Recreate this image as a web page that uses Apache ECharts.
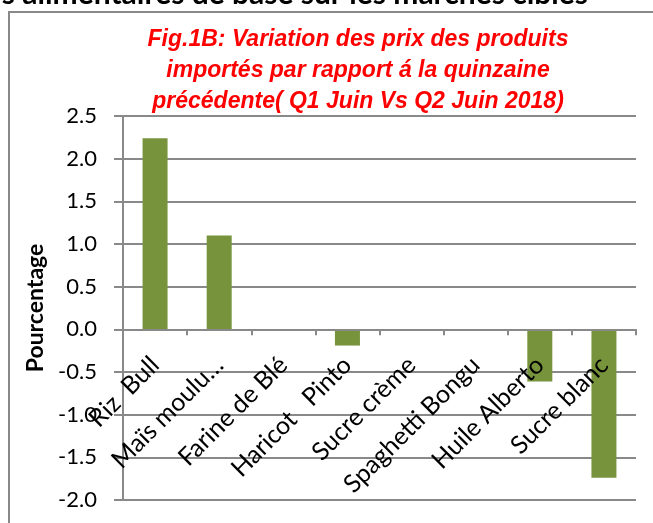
<!DOCTYPE html>
<html>
<head>
<meta charset="utf-8">
<script src="https://cdn.jsdelivr.net/npm/echarts@6/dist/echarts.min.js"></script>
<style>
  html, body { margin: 0; padding: 0; background: #fff; }
  #chart { width: 653px; height: 523px; }
</style>
</head>
<body>
<div id="chart"></div>
<script>
// produits importés (libellés tels que dans la figure)
const produits = ['Riz  Bull', 'Maïs moulu…', 'Farine de Blé', 'Haricot   Pinto',
  'Sucre crème', 'Spaghetti Bongu', 'Huile Alberto', 'Sucre blanc'];
// variation en % Q1 Juin vs Q2 Juin 2018
const variation = [2.24, 1.1, 0, -0.19, 0, 0, -0.61, -1.74];

const yMin = -2.0;
const yMax = 2.5;
const yStep = 0.5;

const titre = 'Fig.1B: Variation des prix des produits\nimportés par rapport á la quinzaine\nprécédente( Q1 Juin Vs Q2 Juin 2018)';
const enTete = 's alimentaires de base sur les marchés cibles';

const gris = '#898989';
const police = 'Lato, "Noto Sans", sans-serif';

const chart = echarts.init(document.getElementById('chart'));

const option = {
  animation: false,
  backgroundColor: '#fff',
  title: {
    text: titre,
    left: 353,
    top: 19,
    textAlign: 'center',
    textStyle: {
      color: '#ff0000',
      fontFamily: '"Liberation Sans", Arial, sans-serif',
      fontStyle: 'italic',
      fontWeight: 'bold',
      fontSize: 23,
      lineHeight: 31
    }
  },
  graphic: [
    {
      // cadre du graphique
      type: 'rect',
      shape: { x: 9, y: 12, width: 700, height: 600 },
      style: { fill: 'none', stroke: gris, lineWidth: 2 },
      silent: true
    },
    {
      // titre de la page, coupé en haut
      type: 'text',
      x: 588,
      y: 9,
      style: {
        text: enTete,
        fill: '#000',
        font: 'bold 30px ' + police,
        textAlign: 'right',
        textVerticalAlign: 'bottom'
      },
      silent: true
    }
  ],
  grid: {
    left: 123,
    right: 17,
    top: 116,
    bottom: 23,
    outerBoundsMode: 'none'
  },
  xAxis: {
    type: 'category',
    data: produits,
    z: 5, // libellés au-dessus des barres
    axisLine: { onZero: true, lineStyle: { color: gris, width: 2 } },
    axisTick: { show: true, length: 6, lineStyle: { color: gris, width: 2 } },
    axisLabel: {
      show: true,
      interval: 0,
      rotate: 45,
      // les libellés restent au bas de la grille en v6 : on les remonte sous la ligne du zéro
      margin: -139,
      color: '#000',
      fontFamily: police,
      fontSize: 25
    },
    splitLine: { show: false }
  },
  yAxis: {
    type: 'value',
    min: yMin,
    max: yMax,
    interval: yStep,
    name: 'Pourcentage',
    nameLocation: 'middle',
    nameGap: 76,
    nameTextStyle: {
      color: '#000',
      fontFamily: police,
      fontWeight: 'bold',
      fontSize: 23
    },
    axisLine: { show: true, lineStyle: { color: gris, width: 2 } },
    axisTick: { show: true, length: 9, lineStyle: { color: gris, width: 2 } },
    axisLabel: {
      margin: 26,
      color: '#000',
      fontFamily: police,
      fontSize: 22,
      formatter: v => v.toFixed(1)
    },
    splitLine: { show: true, lineStyle: { color: gris, width: 2 } }
  },
  series: [
    {
      name: 'Variation',
      type: 'bar',
      data: variation,
      barWidth: 25,
      itemStyle: { color: '#77933c' }
    }
  ]
};

chart.setOption(option);
</script>
</body>
</html>
